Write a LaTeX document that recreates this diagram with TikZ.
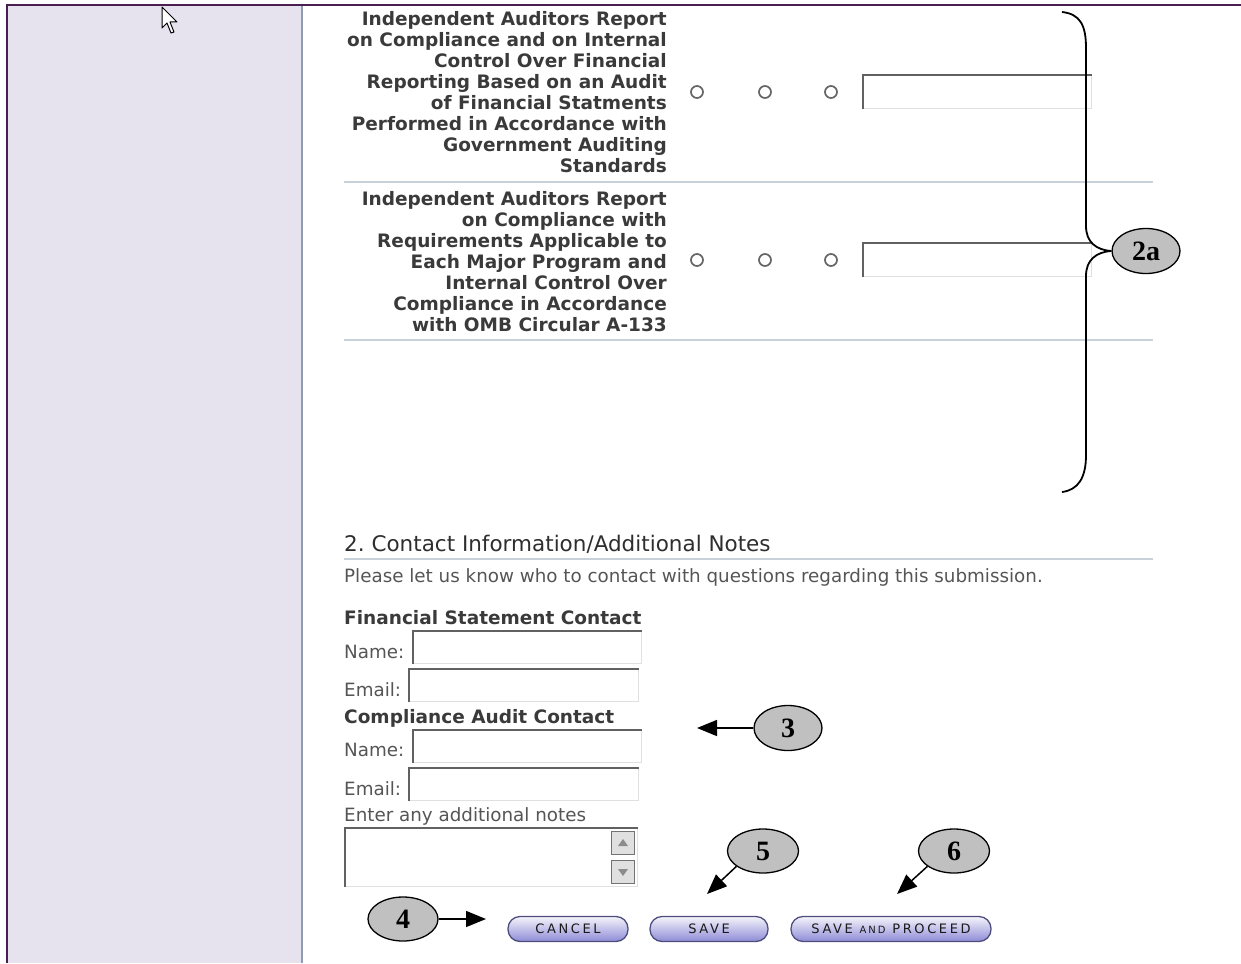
\documentclass[tikz,border=0pt]{standalone}
\usepackage{fontspec}
\setmainfont{DejaVu Sans}
\newfontfamily\calloutfont{Liberation Serif}
\newfontfamily\btnfont[LetterSpace=20]{DejaVu Sans}
\usetikzlibrary{positioning,shapes.geometric,arrows.meta,calc}

\definecolor{panebg}{HTML}{E6E3EF}
\definecolor{paneedge}{HTML}{8F9BB3}
\definecolor{frame}{HTML}{4A1E50}
\definecolor{rule}{HTML}{C9D1DA}
\definecolor{labeltext}{HTML}{3A3A3A}
\definecolor{softtext}{HTML}{555555}
\definecolor{callfill}{HTML}{C0C0C0}
\definecolor{btntop}{HTML}{F4F4FB}
\definecolor{btnbot}{HTML}{8E8BD6}
\definecolor{btnedge}{HTML}{4E4E7E}

\tikzset{
  rowlabel/.style={font=\fontsize{18.5}{21}\selectfont\bfseries, text=labeltext, inner sep=0, anchor=base east},
  plain/.style={font=\fontsize{18.3}{21}\selectfont, text=softtext, inner sep=0, anchor=base west},
  boldlabel/.style={plain, font=\fontsize{18.5}{21}\selectfont\bfseries, text=labeltext},
  radio/.style={circle, draw=black!60, fill=white, line width=1.7pt, minimum size=12pt, inner sep=0},
  field/.style={draw=black!12, fill=white, line width=1pt, inner sep=0, anchor=north west},
  inset/.style={draw=black!62, line width=2.3pt},
  callout/.style={ellipse, draw, fill=callfill, line width=1.3pt, minimum width=68pt, minimum height=45pt, inner sep=0,
    font=\calloutfont\bfseries\fontsize{28}{28}\selectfont},
  pointer/.style={-{Triangle[length=20pt,width=16pt]}, line width=1.5pt},
  btn/.style={rounded corners=12pt, draw=btnedge, line width=1.3pt, top color=btntop, bottom color=btnbot,
    minimum height=25pt, inner sep=0, text=black!90, font=\btnfont\fontsize{13}{13}\selectfont},
  scrollbtn/.style={draw=black!55, fill=black!12, line width=1pt, minimum size=23pt, inner sep=0}
}

\begin{document}
\begin{tikzpicture}[x=1pt,y=-1pt]
  \useasboundingbox (0,0) rectangle (1241,963);
  % left pane and window frame
  \fill[panebg] (7,6) rectangle (302,963);
  \draw[paneedge, line width=2pt] (302,6) -- (302,963);
  \draw[frame, line width=2.5pt] (7,963) -- (7,5) -- (1241,5);
  % mouse pointer
  \draw[fill=white, line width=1pt, line join=round] (162,7) -- (162,28) -- (167,23) -- (171,33) -- (174,32) -- (170,22) -- (177,22) -- cycle;

  % row separators
  \foreach \y in {182,340,559}
    \draw[rule, line width=2pt] (344,\y) -- (1153,\y);

  % report titles
  \foreach \t [count=\i] in {Independent Auditors Report, on Compliance and on Internal, Control Over Financial,
      Reporting Based on an Audit, of Financial Statments, Performed in Accordance with,
      Government Auditing, Standards\hspace{13pt}}
    \node[rowlabel] (ra\i) at (667,{4.5+21*\i}) {\t};
  \foreach \t [count=\i] in {Independent Auditors Report, on Compliance with, Requirements Applicable to,
      Each Major Program and, Internal Control Over, Compliance in Accordance, with OMB Circular A-133\hspace{12pt}}
    \node[rowlabel] (rb\i) at (667,{184.5+21*\i}) {\t};

  % radio buttons and remark boxes
  \foreach \x in {697,765,831} {
    \node[radio] (ca\x) at (\x,92) {};
    \node[radio] (cb\x) at (\x,260) {};
  }
  \node[field, minimum width=228pt, minimum height=33pt] (boxa) at (863,75) {};
  \node[field, minimum width=228pt, minimum height=33pt] (boxb) at (863,243) {};

  % contact section
  \node[plain, font=\fontsize{21.5}{24}\selectfont, text=black!82] (head) at (344,551) {2.\ Contact Information/Additional Notes};
  \node[plain] (intro) at (344,582) {Please let us know who to contact with questions regarding this submission.};
  \node[boldlabel] (fsc) at (344,624) {Financial Statement Contact};
  \node[plain] (fsnl) at (344,658) {Name:};
  \node[plain] (fsel) at (344,696) {Email:};
  \node[boldlabel] (cac) at (344,723) {Compliance Audit Contact};
  \node[plain] (canl) at (344,756) {Name:};
  \node[plain] (cael) at (344,795) {Email:};
  \node[plain] (notl) at (344,821) {Enter any additional notes};
  \node[field, minimum width=228pt, minimum height=32pt] (fsn) at (413,631) {};
  \node[field, minimum width=229pt, minimum height=32pt] (fse) at (409,669) {};
  \node[field, minimum width=228pt, minimum height=32pt] (can) at (413,730) {};
  \node[field, minimum width=229pt, minimum height=32pt] (cae) at (409,768) {};
  \node[field, minimum width=292pt, minimum height=58pt] (notes) at (345,828) {};
  \foreach \n in {boxa,boxb,fsn,fse,can,cae,notes}
    \draw[inset] (\n.south west) |- (\n.north east);
  \node[scrollbtn] (sup) at (623,843) {};
  \node[scrollbtn] (sdn) at (623,872) {};
  \fill[black!45] ($(sup.center)+(-5,3)$) -- ++(10,0) -- ++(-5,-7) -- cycle;
  \fill[black!45] ($(sdn.center)+(-5,-3)$) -- ++(10,0) -- ++(-5,7) -- cycle;

  % buttons
  \node[btn, minimum width=120pt] (cancel) at (568,929) {CANCEL};
  \node[btn, minimum width=118pt] (save) at (709,929) {SAVE};
  \node[btn, minimum width=200pt] (proceed) at (891,929) {SAVE {\fontsize{10}{10}\selectfont AND} PROCEED};

  % callouts
  \node[callout] (c2a) at (1146,251) {2a};
  \node[callout] (c3) at (788,728) {3};
  \node[callout, minimum width=70pt, minimum height=44pt] (c4) at (403,919) {4};
  \node[callout, minimum width=71pt, minimum height=44pt] (c5) at (763,851) {5};
  \node[callout, minimum width=71pt, minimum height=44pt] (c6) at (954,851) {6};
  \coordinate (t3) at (697,728);
  \coordinate (t4) at (486,919);
  \coordinate (t5) at (707,894);
  \coordinate (t6) at (897,894);
  \draw[pointer] (c3) -- (t3);
  \draw[pointer] (c4) -- (t4);
  \draw[pointer] (c5.210) -- (t5);
  \draw[pointer] (c6.210) -- (t6);

  % brace over both report rows
  \draw[line width=1.8pt] (1062,12) .. controls (1080,14) and (1086,25) .. (1086,48) -- (1086,226)
    .. controls (1086,242) and (1096,250) .. (c2a.west)
    .. controls (1096,252) and (1086,260) .. (1086,276) -- (1086,455)
    .. controls (1086,478) and (1078,490) .. (1062,492);
\end{tikzpicture}
\end{document}
